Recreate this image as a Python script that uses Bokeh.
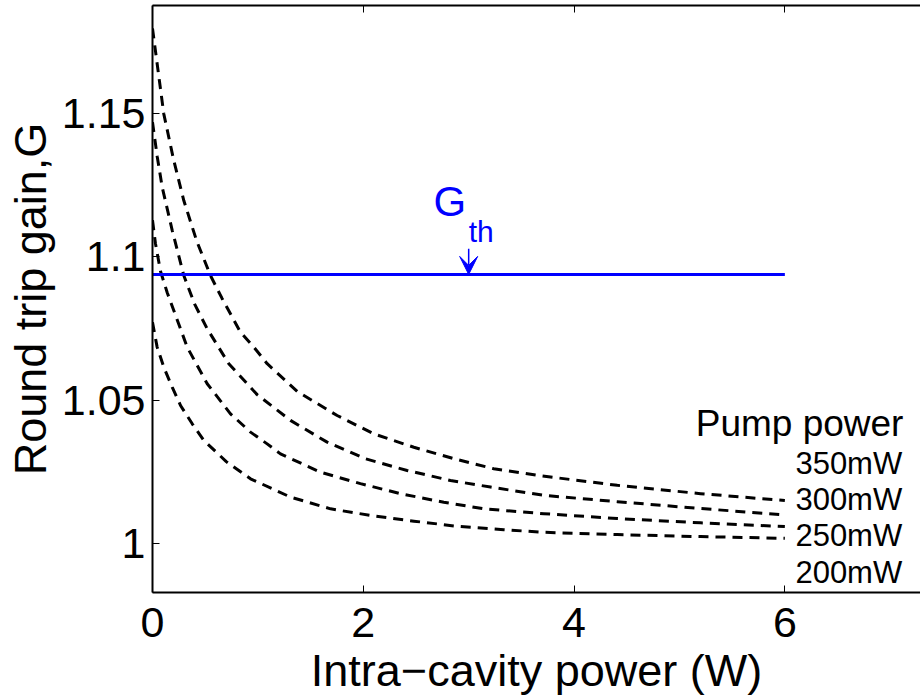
from bokeh.plotting import figure
from bokeh.models import (LinearAxis, FixedTicker, Label, Arrow, VeeHead, Range1d)
from bokeh.embed import file_html
from bokeh.resources import INLINE

# ---------------- data ----------------
power_350 = [0.0, 0.107, 0.2, 0.297, 0.42, 0.55, 0.66, 0.835, 0.961, 1.088, 1.373, 1.752, 2.1,
             2.48, 2.86, 3.238, 3.65, 4.41, 5.2, 6.0]
gain_350 = [1.1798, 1.1500, 1.1340, 1.1197, 1.1055, 1.0935, 1.0855, 1.0737, 1.0685, 1.0627,
            1.0530, 1.0446, 1.0382, 1.0335, 1.0295, 1.0260, 1.0237, 1.0202, 1.0173, 1.0149]
power_300 = [0.0, 0.045, 0.092, 0.187, 0.297, 0.40, 0.519, 0.724, 0.993, 1.309, 1.657, 2.02,
             2.416, 2.827, 3.207, 3.713, 4.41, 5.2, 6.0]
gain_300 = [1.1471, 1.1350, 1.1244, 1.1093, 1.0935, 1.0835, 1.0749, 1.0627, 1.0519, 1.0429,
            1.0353, 1.0295, 1.0254, 1.0219, 1.0196, 1.0167, 1.0145, 1.0121, 1.0099]
power_250 = [0.0, 0.028, 0.076, 0.14, 0.202, 0.329, 0.519, 0.74, 0.93, 1.088, 1.214, 1.594,
             1.973, 2.353, 2.764, 3.144, 3.713, 4.41, 5.2, 6.0]
gain_250 = [1.1128, 1.1047, 1.0950, 1.0875, 1.0813, 1.0685, 1.0557, 1.0452, 1.0388, 1.0347,
            1.0312, 1.0248, 1.0208, 1.0173, 1.0143, 1.0120, 1.0103, 1.0086, 1.0071, 1.0058]
power_200 = [0.0, 0.044, 0.107, 0.187, 0.266, 0.377, 0.487, 0.70, 0.93, 1.309, 1.689, 2.068,
             2.48, 2.89, 3.333, 3.713, 4.41, 5.2, 6.0]
gain_200 = [1.0772, 1.0685, 1.0615, 1.0545, 1.0481, 1.0417, 1.0359, 1.0285, 1.0225, 1.0161,
            1.0120, 1.0097, 1.0077, 1.0059, 1.0047, 1.0038, 1.0030, 1.0023, 1.0017]
threshold_x = [0.0, 6.0]
threshold_g = [1.0939, 1.0939]
arrow_x = 3.0
arrow_g = [1.1029, 1.0939]

pump_labels = ["350mW", "300mW", "250mW", "200mW"]
pump_label_g = [1.02785, 1.01527, 1.00270, 0.98977]

x_ticks = [0, 2, 4, 6]
y_ticks = [1.0, 1.05, 1.1, 1.15]
y_tick_labels = ["1", "1.05", "1.1", "1.15"]

FONT = "Liberation Sans"
BLUE = "#0000ff"

p = figure(width=920, height=698, output_backend="svg", toolbar_location=None,
           x_range=Range1d(0, 7.287), y_range=Range1d(0.98277, 1.18784),
           x_axis_location=None, y_axis_location=None,
           min_border_left=152, min_border_right=0, min_border_top=5,
           min_border_bottom=106)
p.outline_line_color = None
p.grid.visible = False
p.background_fill_color = "white"
p.border_fill_color = "white"

# axes
xaxis = LinearAxis(ticker=FixedTicker(ticks=x_ticks), axis_label="Intra\u2212cavity power (W)")
yaxis = LinearAxis(ticker=FixedTicker(ticks=y_ticks), axis_label="Round trip gain,G",
                   major_label_overrides={v: s for v, s in zip(y_ticks, y_tick_labels)})
top = LinearAxis(ticker=FixedTicker(ticks=x_ticks),
                 major_label_overrides={t: "" for t in x_ticks})
for ax in (xaxis, yaxis, top):
    ax.axis_line_color = "black"
    ax.axis_line_width = 2
    ax.major_tick_in = 7
    ax.major_tick_out = 0
    ax.major_tick_line_color = "black"
    ax.major_tick_line_width = 1
    ax.minor_tick_line_color = None
    ax.major_label_text_font = FONT
    ax.major_label_text_font_size = "43px"
    ax.major_label_text_color = "black"
    ax.axis_label_text_font = FONT
    ax.axis_label_text_font_size = "45px"
    ax.axis_label_text_font_style = "normal"
    ax.axis_label_text_color = "black"
xaxis.major_label_standoff = 15
xaxis.axis_label_standoff = 5
yaxis.major_label_standoff = 7
yaxis.axis_label_standoff = 3
top.major_label_text_font_size = "0px"
top.major_label_standoff = 0
p.add_layout(xaxis, "below")
p.add_layout(yaxis, "left")
p.add_layout(top, "above")

# curves
for xs, g in ((power_350, gain_350), (power_300, gain_300),
              (power_250, gain_250), (power_200, gain_200)):
    p.line(xs, g, line_color="black", line_width=3, line_dash="10 7", line_join="round")

p.line(threshold_x, threshold_g, line_color=BLUE, line_width=3)
p.add_layout(Arrow(end=VeeHead(size=18, fill_color=BLUE, line_color=BLUE, line_width=1),
                   x_start=arrow_x, y_start=arrow_g[0], x_end=arrow_x, y_end=arrow_g[1],
                   line_color=BLUE, line_width=1.5))

p.add_layout(Label(x=2.666, y=1.1194, text="G", text_font=FONT, text_font_size="42px",
                   text_color=BLUE, text_baseline="alphabetic"))
p.add_layout(Label(x=3.0, y=1.1089, text="th", text_font=FONT, text_font_size="30px",
                   text_color=BLUE, text_baseline="alphabetic"))

p.add_layout(Label(x=7.125, y=1.0418, text="Pump power", text_font=FONT, text_font_size="37px",
                   text_color="black", text_align="right", text_baseline="alphabetic"))
for lab, g in zip(pump_labels, pump_label_g):
    p.add_layout(Label(x=6.10, y=g, text=lab, text_font=FONT, text_font_size="31px",
                       text_color="black", text_baseline="alphabetic"))

open("out.html", "w").write(file_html(p, INLINE))
